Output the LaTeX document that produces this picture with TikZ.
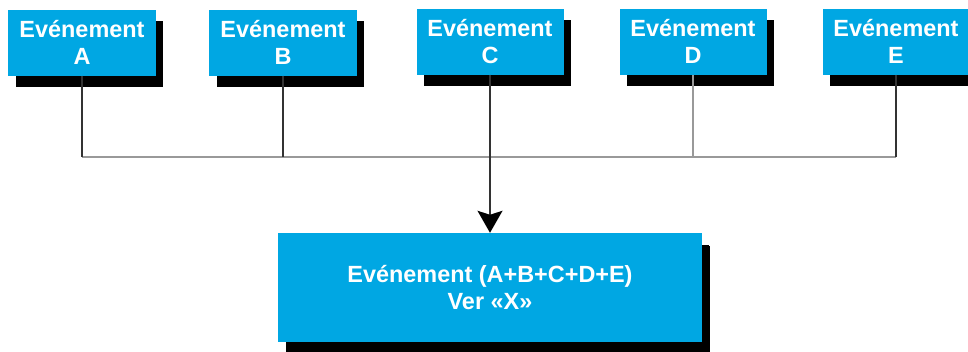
\documentclass[tikz,border=0pt]{standalone}
\usepackage{fontspec}
\setmainfont{Liberation Sans}
\usetikzlibrary{arrows.meta,shadows}
\definecolor{evblue}{RGB}{0,167,227}
\tikzset{
  evbox/.style={fill=evblue, text=white, align=center, inner sep=0pt,
    font=\bfseries\fontsize{20}{23}\selectfont,
    minimum width=4.41cm, minimum height=1.98cm,
    drop shadow={shadow xshift=0.22cm, shadow yshift=-0.35cm, fill=black, opacity=1}},
  totbox/.style={evbox, minimum width=12.69cm, minimum height=3.27cm,
    drop shadow={shadow xshift=0.25cm, shadow yshift=-0.38cm, fill=black, opacity=1}},
  feed/.style={draw=black!80, line width=1.2pt},
  bus/.style={draw=black!40, line width=1.2pt}
}
\begin{document}
\begin{tikzpicture}[x=0.03cm,y=-0.03cm]
\useasboundingbox (0,0) rectangle (968,351);
% events on top
\node[evbox] (evA) at (82,42.5) {Evénement\\A};
\node[evbox] (evB) at (283,42.5) {Evénement\\B};
\node[evbox] (evC) at (490,41.5) {Evénement\\C};
\node[evbox] (evD) at (693,41.5) {Evénement\\D};
\node[evbox] (evE) at (896,41.5) {Evénement\\E};
% result
\node[totbox] (total) at (490,287.5) {Evénement (A+B+C+D+E)\\Ver «X»};
\coordinate (bus) at (0,157);
\draw[bus] (evA.south |- bus) -- (evE.south |- bus);
\draw[feed] (evA.south) -- (evA.south |- bus);
\draw[feed] (evB.south) -- (evB.south |- bus);
\draw[bus] (evD.south) -- (evD.south |- bus);
\draw[feed] (evE.south) -- (evE.south |- bus);
\draw[feed,-{Stealth[length=0.66cm,width=0.75cm,inset=0.12cm,black]}] (evC.south) -- (total.north);
\end{tikzpicture}
\end{document}
